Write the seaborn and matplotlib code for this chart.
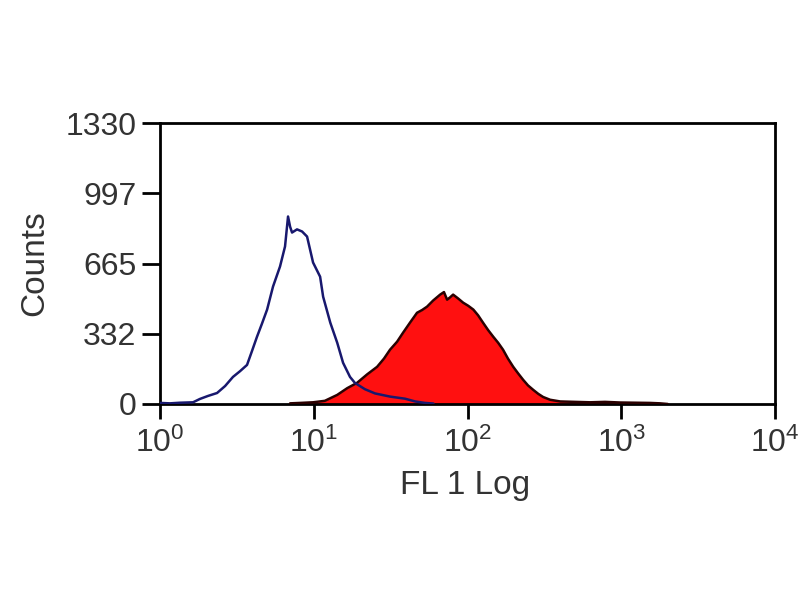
import numpy as np
import pandas as pd
import matplotlib
matplotlib.use("Agg")
import matplotlib.pyplot as plt
import seaborn as sns
from matplotlib.ticker import FixedLocator, LogFormatterSciNotation, NullLocator

# ---- data ----
blue_fl = [1.0, 1.16, 1.35, 1.64, 1.82, 2.05, 2.35, 2.65, 2.98, 3.31, 3.68, 3.96,
           4.27, 4.60, 4.97, 5.43, 6.03, 6.50, 6.80, 7.01, 7.22, 7.78, 8.39, 9.04,
           9.89, 10.99, 11.5, 12.8, 14.2, 15.5, 17.2, 18.5, 21.5, 25.0, 31.3, 39.2,
           45.6, 52.9, 60.0]
blue_counts = [5, 3, 6, 8, 24, 38, 52, 85, 128, 155, 185, 250,
               318, 380, 447, 556, 651, 746, 888, 840, 812, 827, 817, 793,
               670, 603, 508, 385, 290, 195, 128, 100, 70, 50, 35, 25,
               12, 5, 2]

red_fl = [7.01, 8.14, 9.89, 11.8, 14.2, 16.5, 19.1, 22.2, 25.8, 28.6, 31.3, 34.8,
          38.0, 42.2, 46.9, 50.6, 54.5, 59.7, 66.3, 70.2, 73.6, 76.9, 80.5, 86.7,
          93.5, 101, 109, 117, 126, 136, 147, 158, 170, 183, 198, 213,
          230, 247, 267, 288, 310, 344, 400, 500, 626, 783, 981, 1229,
          1538, 1786, 2000]
red_counts = [3, 5, 8, 15, 43, 75, 100, 140, 176, 215, 257, 295,
              337, 385, 432, 445, 461, 490, 518, 530, 494, 505, 518, 500,
              480, 465, 447, 420, 385, 350, 318, 290, 257, 215, 176, 145,
              114, 88, 67, 48, 33, 20, 12, 10, 8, 10, 7, 6,
              5, 3, 0]

y_ticks = [0, 332, 665, 997, 1330]
x_ticks = [1, 10, 100, 1000, 10000]
x_label = "FL 1 Log"
y_label = "Counts"

blue_df = pd.DataFrame({"fl": blue_fl, "counts": blue_counts})
red_df = pd.DataFrame({"fl": red_fl, "counts": red_counts})

sns.set_theme(style="ticks")
plt.rcParams["font.family"] = ["Liberation Sans", "DejaVu Sans"]
plt.rcParams["mathtext.fontset"] = "custom"
plt.rcParams["mathtext.rm"] = "Liberation Sans"
plt.rcParams["mathtext.it"] = "Liberation Sans"

fig = plt.figure(figsize=(8, 6), dpi=100)
fig.patch.set_facecolor("white")
ax = fig.add_axes([0.2, 0.3267, 0.769, 0.468])
ax.set_facecolor("white")

# red filled histogram
ax.fill_between(red_df["fl"], red_df["counts"], color="#ff1010",
                linewidth=0, zorder=2)
sns.lineplot(data=red_df, x="fl", y="counts", ax=ax, color="#2a0000",
             linewidth=1.8, zorder=3)
# blue open histogram
sns.lineplot(data=blue_df, x="fl", y="counts", ax=ax, color="#18186e",
             linewidth=1.8, zorder=4)

ax.set_xscale("log")
ax.set_xlim(1, 10000)
ax.set_ylim(0, 1330)
ax.xaxis.set_major_locator(FixedLocator(x_ticks))
ax.xaxis.set_minor_locator(NullLocator())
ax.xaxis.set_major_formatter(LogFormatterSciNotation())
ax.set_yticks(y_ticks)
ax.set_yticklabels([str(v) for v in y_ticks])

for s in ax.spines.values():
    s.set_visible(True)
    s.set_linewidth(2)
    s.set_color("black")

ax.tick_params(axis="both", direction="out", length=11, width=2,
               color="black", labelsize=23, labelcolor="#333333")
ax.tick_params(axis="y", length=13, pad=4)
ax.tick_params(axis="x", pad=6)

ax.set_xlabel(x_label, fontsize=24, color="#333333")
ax.set_ylabel(y_label, fontsize=24, color="#333333")
ax.xaxis.set_label_coords(0.496, -0.235)
ax.yaxis.set_label_coords(-0.178, 0.5)
ax.grid(False)

fig.savefig("out.png", dpi=100, facecolor="white")
